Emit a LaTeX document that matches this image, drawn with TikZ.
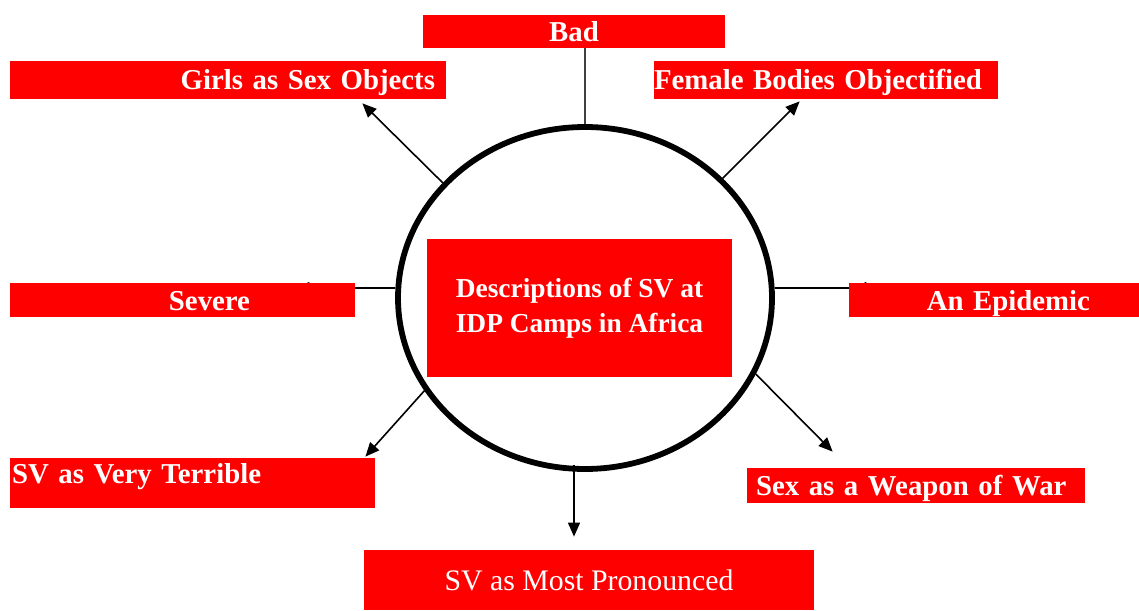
\documentclass[tikz,border=0pt]{standalone}
\usepackage{fontspec}
\setmainfont{Liberation Serif}
\usetikzlibrary{arrows.meta}
\usetikzlibrary{shapes.geometric}
\usetikzlibrary{calc}
\usetikzlibrary{backgrounds}

\begin{document}
\begin{tikzpicture}[
	x=0.5pt,y=-0.5pt,
	bar/.style={
		fill=red,text=white,
		inner sep=0pt,
	},
	box/.style={
		bar,
		font=\bfseries\fontsize{14.4pt}{18pt}\selectfont,
		text height=10pt,text depth=0pt,
	},
	arr/.style={-{Triangle[length=7pt,width=6pt]},line width=0.8pt},
]
\useasboundingbox (0,0) rectangle (1139,610);
\node [ellipse,draw,line width=2.9pt,minimum width=187pt,minimum height=171pt,inner sep=0pt] (circ) at (585,298) {};
\node [bar,minimum width=152.5pt,minimum height=69pt,align=center,
	font=\bfseries\fontsize{13.7pt}{17.5pt}\selectfont] (desc) at (579.5,308) {
	Descriptions of SV at\\IDP Camps in Africa
};
\node [box,minimum width=151pt,minimum height=16.5pt] (bad) at (574,31.5) {Bad};
\node [box,minimum width=218pt,minimum height=19pt,text width=207pt,align=right] (girls) at (228,80) {Girls as Sex Objects};
\node [box,minimum width=172pt,minimum height=19pt,text width=172pt,align=left] (female) at (826,80) {Female Bodies Objectified};
\node [box,minimum width=172.5pt,minimum height=17pt,text width=67.5pt,align=right] (severe) at (182.5,300) {Severe};
\node [box,minimum width=145pt,minimum height=17pt,text width=96pt,align=right] (epidemic) at (994,300) {An Epidemic};
\node [box,minimum width=182.5pt,minimum height=25pt,text width=180.5pt,align=left,text depth=10pt] (terrible) at (192.5,483) {SV as Very Terrible};
\node [box,minimum width=169pt,minimum height=17.5pt,text width=160pt,align=left] (weapon) at (916,485.5) {Sex as a Weapon of War};
\node [box,minimum width=225pt,minimum height=30pt,font=\fontsize{14.9pt}{18pt}\selectfont] (pron) at (589,580) {SV as Most Pronounced};

\begin{scope}[on background layer]
\draw [line width=1pt,black!75] (circ.north) -- (circ.north |- bad.south);
\draw [arr] (circ.141) -- ($(girls.south east)+(-84,4)$);
\draw [arr] (circ.41.5) -- ($(female.south west)+(146,2)$);
\draw [arr] (circ.177) -- ($(circ.177 -| severe.east)+(-60,0)$);
\draw [arr] (circ.3) -- ($(circ.3 -| epidemic.west)+(30,0)$);
\draw [arr] (circ.210.7) -- ($(terrible.north east)+(-10,-1)$);
\draw [arr] (circ.-24) -- ($(weapon.north west)+(86,-16)$);
\coordinate (drop) at ($(circ.south)+(-11,-7)$);
\draw [arr,shorten >=6.5pt] (drop) -- (drop |- pron.north);
\end{scope}
\end{tikzpicture}
\end{document}
